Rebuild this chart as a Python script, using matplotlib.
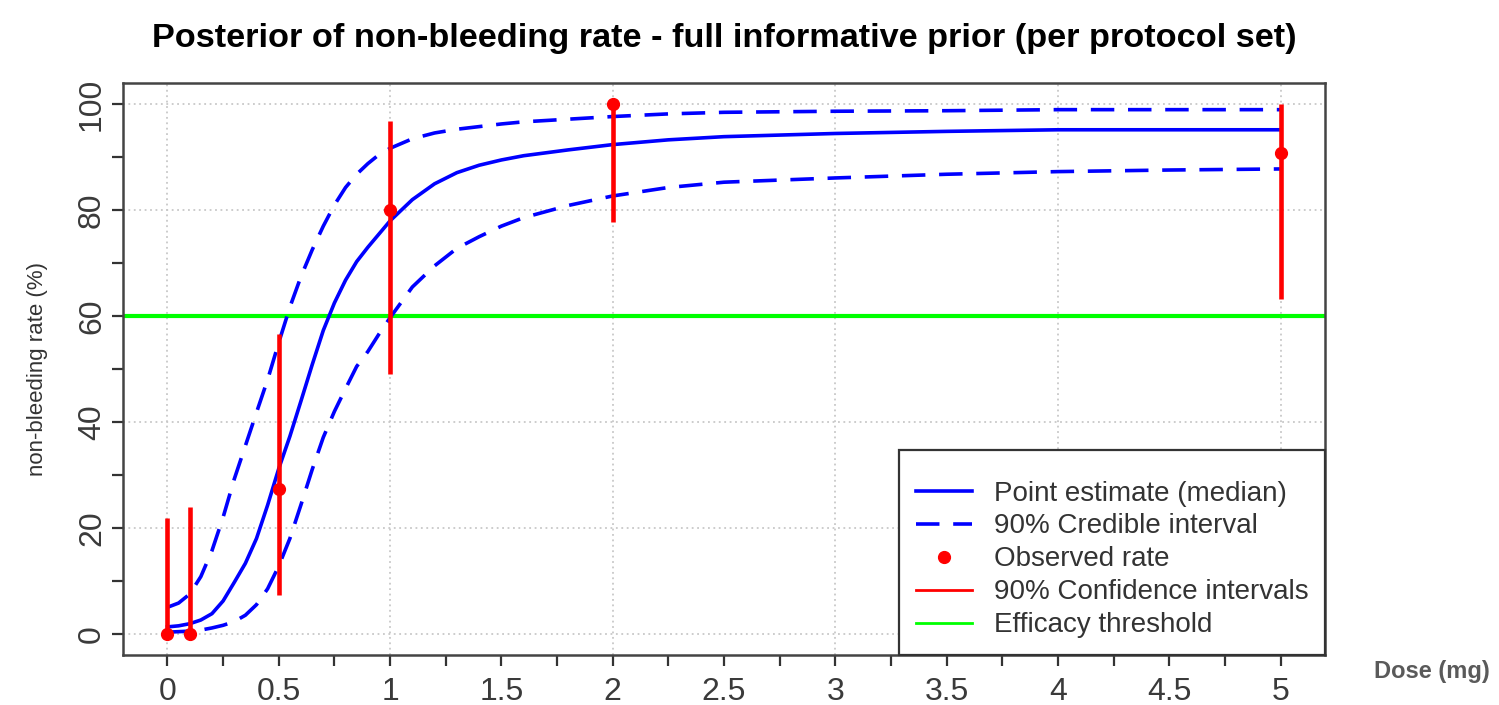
import matplotlib
matplotlib.use("Agg")
import matplotlib.pyplot as plt
from matplotlib.lines import Line2D
from matplotlib.ticker import MultipleLocator

# posterior curves
dose_grid = [0, 0.05, 0.1, 0.15, 0.2, 0.25, 0.3, 0.35, 0.4, 0.45, 0.5, 0.55, 0.6, 0.65,
             0.7, 0.75, 0.8, 0.85, 0.9, 0.95, 1.0, 1.1, 1.2, 1.3, 1.4, 1.5, 1.6, 1.8,
             2.0, 2.25, 2.5, 3.0, 3.5, 4.0, 4.5, 5.0]
median = [1.3, 1.5, 1.9, 2.6, 3.8, 6.2, 9.7, 13.3, 18.0, 24.3, 31.2, 37.3, 44.0, 50.8,
          57.3, 62.5, 66.8, 70.3, 73.0, 75.5, 78.0, 82.0, 85.0, 87.1, 88.5, 89.5, 90.3,
          91.4, 92.4, 93.3, 93.9, 94.5, 94.9, 95.2, 95.2, 95.2]
upper = [5.0, 5.8, 7.5, 10.8, 15.7, 22.0, 29.2, 35.5, 41.8, 48.0, 55.0, 61.7, 67.5, 72.5,
         77.0, 81.0, 84.3, 86.8, 88.8, 90.5, 91.7, 93.5, 94.6, 95.3, 95.8, 96.3, 96.7,
         97.2, 97.7, 98.2, 98.5, 98.7, 98.8, 99.0, 99.0, 99.0]
lower = [0.3, 0.4, 0.5, 0.7, 1.1, 1.6, 2.3, 3.5, 5.5, 8.5, 12.8, 18.0, 24.4, 31.0,
         37.1, 42.0, 46.3, 50.5, 53.3, 56.6, 59.7, 65.5, 69.5, 72.8, 75.0, 77.0, 78.6,
         80.9, 82.7, 84.3, 85.3, 86.1, 86.8, 87.3, 87.6, 87.8]

# observed rates with 90% confidence intervals
obs_dose = [0, 0.1, 0.5, 1, 2, 5]
obs_rate = [0, 0, 27.3, 80, 100, 90.9]
ci_low = [0, 0, 7.3, 49, 77.8, 63.2]
ci_high = [21.9, 24, 56.6, 96.8, 100, 100]

threshold = 60

plt.rcParams['font.family'] = ['Liberation Sans', 'DejaVu Sans']

fig = plt.figure(figsize=(14.99, 7.05), dpi=100)
ax = fig.add_axes([0.082, 0.071, 0.802, 0.811])

# R-style dotted grid
for gx in range(0, 6):
    ax.axvline(gx, color='#c8c8c8', lw=1.3, ls=(0, (1, 2)), zorder=0)
for gy in range(0, 101, 20):
    ax.axhline(gy, color='#c8c8c8', lw=1.3, ls=(0, (1, 2)), zorder=0)

ax.axhline(threshold, color='#00ff00', lw=3, zorder=1)

dash = (0, (6.5, 3.8))
ax.plot(dose_grid, median, color='#0000ff', lw=2.6, zorder=2)
ax.plot(dose_grid, upper, color='#0000ff', lw=2.6, ls=dash, zorder=2)
ax.plot(dose_grid, lower, color='#0000ff', lw=2.6, ls=dash, zorder=2)

ax.vlines(obs_dose, ci_low, ci_high, color='#ff0000', lw=3.3, zorder=3)
ax.plot(obs_dose, obs_rate, 'o', color='#ff0000', ms=8.5, zorder=4)

ax.set_xlim(-0.2, 5.2)
ax.set_ylim(-4, 104)
ax.xaxis.set_minor_locator(MultipleLocator(0.25))
ax.yaxis.set_major_locator(MultipleLocator(20))
ax.yaxis.set_minor_locator(MultipleLocator(10))
ax.set_xticks([0, 0.5, 1, 1.5, 2, 2.5, 3, 3.5, 4, 4.5, 5])
ax.set_xticklabels(['0', '0.5', '1', '1.5', '2', '2.5', '3', '3.5', '4', '4.5', '5'])
ax.tick_params(axis='both', which='both', direction='out', length=8, width=1.6,
               color='#333333', labelsize=23, labelcolor='#3a3a3a')
ax.tick_params(axis='x', pad=8)
for lab in ax.get_yticklabels():
    lab.set_rotation(90)
    lab.set_va('center')
for sp in ax.spines.values():
    sp.set_color('#444444')
    sp.set_linewidth(1.8)

ax.set_ylabel('non-bleeding rate (%)', fontsize=16, color='#333333')
ax.yaxis.set_label_coords(-0.062, 0.5)
fig.text(0.955, 0.048, 'Dose (mg)', fontsize=17, fontweight='bold', color='#5a5a5a',
         ha='center', va='center')
fig.suptitle('Posterior of non-bleeding rate - full informative prior (per protocol set)',
             fontsize=24.7, fontweight='bold', x=0.483, y=0.968)

handles = [
    Line2D([], [], color='#0000ff', lw=2.6),
    Line2D([], [], color='#0000ff', lw=2.6, ls=dash),
    Line2D([], [], color='#ff0000', marker='o', ls='none', ms=8.5),
    Line2D([], [], color='#ff0000', lw=2),
    Line2D([], [], color='#00ff00', lw=2),
]
labels = ['Point estimate (median)', '90% Credible interval', 'Observed rate',
          '90% Confidence intervals', 'Efficacy threshold']
leg = ax.legend(handles, labels, loc='lower right', borderaxespad=0, fontsize=20,
                fancybox=False, framealpha=1, edgecolor='#333333', handlelength=2.0,
                labelspacing=0.25, borderpad=0.6, handletextpad=0.8,
                title=' ', title_fontsize=5)
leg.get_frame().set_linewidth(1.6)
for t in leg.get_texts():
    t.set_color('#333333')

fig.savefig('out.png', dpi=100)
